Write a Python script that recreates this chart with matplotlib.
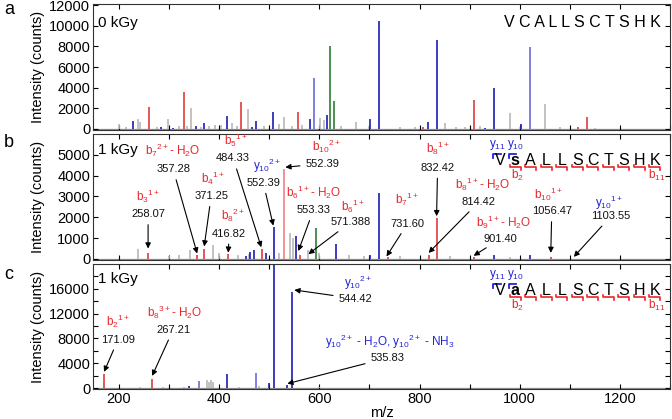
import numpy as np
import matplotlib
matplotlib.use("Agg")
import matplotlib.pyplot as plt
from matplotlib.ticker import MultipleLocator

plt.rcParams['font.family'] = ['Liberation Sans', 'DejaVu Sans']
plt.rcParams['mathtext.fontset'] = 'custom'
plt.rcParams['mathtext.rm'] = 'Liberation Sans'
plt.rcParams['mathtext.it'] = 'Liberation Sans'
plt.rcParams['mathtext.bf'] = 'Liberation Sans:bold'

# ---- peak lists (m/z, intensity, colour class) ----
a_mz = [200, 238, 242, 298, 344, 392, 426, 458, 530, 602, 674, 850, 980, 1050,
        214, 276, 320, 336, 364, 380, 404, 436, 490, 520, 546, 566, 610, 644,
        700, 760, 790, 872, 890, 920, 1000, 1080, 1150,
        228, 284, 308, 354, 370, 416, 466, 474, 508, 582, 616, 702, 720, 816, 834, 930, 948, 1002,
        590, 1020,
        260, 330, 444, 558, 806, 908, 1116, 1134,
        622, 630]
a_int = [500, 1000, 700, 1000, 2000, 400, 600, 1900, 1200, 1100, 700, 600, 1500, 2400,
         150, 200, 300, 250, 200, 300, 350, 250, 300, 500, 300, 400, 900, 300,
         250, 200, 150, 200, 200, 300, 200, 150, 100,
         800, 200, 100, 300, 600, 1300, 200, 800, 1600, 1000, 1400, 1000, 10450, 700, 8600, 100, 4000, 500,
         4900, 7950,
         2100, 3600, 2600, 1600, 200, 2850, 200, 1130,
         8050, 2700]
a_cls = ['k'] * 37 + ['b'] * 18 + ['lb'] * 2 + ['r'] * 8 + ['g'] * 2

b_mz = [238, 342, 388, 438, 542, 548, 578, 300, 320, 400, 460, 520, 600, 660, 690, 760, 860, 980,
        454, 462, 470, 494, 510, 554, 634, 702, 720, 948, 1020,
        258, 356, 370, 418, 486, 562, 736, 818, 834, 908, 1062,
        530, 594]
b_int = [470, 430, 680, 200, 1260, 1000, 450, 150, 200, 300, 250, 300, 300, 200, 150, 150, 150, 100,
         150, 350, 450, 300, 1550, 1120, 730, 200, 3150, 200, 200,
         270, 200, 480, 220, 500, 200, 100, 200, 1980, 100, 100,
         4320, 1500]
b_cls = ['k'] * 18 + ['b'] * 11 + ['r'] * 11 + ['lr', 'g']

c_mz = [242, 288, 376, 380, 384, 388, 330, 440, 480, 600,
        340, 360, 416, 474, 500, 510, 536, 546,
        170, 266]
c_int = [200, 150, 1300, 1000, 1300, 900, 200, 200, 300, 200,
         400, 1080, 2320, 2490, 760, 30000, 430, 15500,
         2200, 1500]
c_cls = ['k'] * 10 + ['b', 'lb', 'b', 'lb', 'b', 'b', 'b', 'b'] + ['r', 'r']

# ---- annotations: ion label, m/z text, colour, arrow target (m/z, intensity) ----
b_ions = [r'$\mathregular{b_3{}^{1+}}$', r'$\mathregular{b_7{}^{2+}}$- H$_2$O',
          r'$\mathregular{b_4{}^{1+}}$', r'$\mathregular{b_8{}^{2+}}$',
          r'$\mathregular{b_5{}^{1+}}$', r'$\mathregular{y_{10}{}^{2+}}$',
          r'$\mathregular{b_{10}{}^{2+}}$', r'$\mathregular{b_6{}^{1+}}$- H$_2$O',
          r'$\mathregular{b_6{}^{1+}}$', r'$\mathregular{b_7{}^{1+}}$',
          r'$\mathregular{b_8{}^{1+}}$', r'$\mathregular{b_8{}^{1+}}$- H$_2$O',
          r'$\mathregular{b_9{}^{1+}}$- H$_2$O', r'$\mathregular{b_{10}{}^{1+}}$',
          r'$\mathregular{y_{10}{}^{1+}}$']
b_nums = ['258.07', '357.28', '371.25', '416.82', '484.33', '552.39', '552.39', '553.33',
          '571.388', '731.60', '832.42', '814.42', '901.40', '1056.47', '1103.55']
b_ion_col = ['r', 'r', 'r', 'r', 'r', 'b', 'r', 'r', 'r', 'r', 'r', 'r', 'r', 'r', 'b']
b_tip = [(258, 500), (356, 260), (370, 600), (418, 300), (484, 560), (508, 1600),
         (532, 4400), (558, 380), (578, 230), (734, 120), (834, 2050), (818, 290),
         (908, 150), (1062, 290), (1108, 100)]

c_ions = [r'$\mathregular{b_2{}^{1+}}$', r'$\mathregular{b_8{}^{3+}}$- H$_2$O',
          r'$\mathregular{y_{10}{}^{2+}}$',
          r'$\mathregular{y_{10}{}^{2+}}$ - H$_2$O, $\mathregular{y_{10}{}^{2+}}$ - NH$_3$']
c_nums = ['171.09', '267.21', '544.42', '535.83']
c_ion_col = ['r', 'r', 'b', 'b']
c_tip = [(170, 2600), (266, 1950), (550, 15800), (536, 700)]

seq_a = ['V', 'C', 'A', 'L', 'L', 'S', 'C', 'T', 'S', 'H', 'K']
seq_b = ['V', 's', 'A', 'L', 'L', 'S', 'C', 'T', 'S', 'H', 'K']
seq_c = ['V', 'a', 'A', 'L', 'L', 'S', 'C', 'T', 'S', 'H', 'K']

# text layout (data coords): ion label pos, number pos
b_lab_xy = [(258, 3000), (308, 5200), (388, 3850), (428, 2100), (434, 5700), (496, 4450),
            (614, 5400), (588, 3200), (668, 2500), (776, 2850), (836, 5300), (926, 3600),
            (968, 1750), (1058, 3100), (1178, 2700)]
b_num_xy = [(258, 2150), (308, 4300), (384, 3020), (420, 1220), (428, 4820), (488, 3650),
            (606, 4570), (588, 2340), (662, 1760), (776, 1700), (836, 4380), (918, 2730),
            (962, 980), (1064, 2290), (1182, 2050)]
c_lab_xy = [(198, 10700), (312, 12150), (678, 16900), (740, 7450)]
c_num_xy = [(198, 7800), (308, 9400), (672, 14400), (736, 4850)]

colors = {'k': '#b8b8b8', 'b': '#1c1cb4', 'lb': '#6a6ae0', 'r': '#e03a3a',
          'lr': '#f08080', 'g': '#2e7d32'}
lab_colors = {'r': '#e8262c', 'b': '#2424d8'}

fig = plt.figure(figsize=(6.72, 4.19), dpi=100)
ax_a = fig.add_axes([0.1384, 0.6897, 0.8586, 0.3007])
ax_b = fig.add_axes([0.1384, 0.3795, 0.8586, 0.3007])
ax_c = fig.add_axes([0.1384, 0.0716, 0.8586, 0.2984])


def draw_spectrum(ax, mz, inten, cls):
    order = np.argsort([c != 'k' for c in cls], kind='stable')
    for i in order:
        ax.vlines(mz[i], 0, inten[i], color=colors[cls[i]], lw=1.2)
    ax.axhline(0, color='#8c8c8c', lw=0.9, zorder=1)
    ax.set_xlim(148, 1300)
    ax.xaxis.set_major_locator(MultipleLocator(200))
    ax.xaxis.set_minor_locator(MultipleLocator(100))
    ax.tick_params(which='both', direction='in', top=True, right=True,
                   labelsize=10.5, length=3.5, width=0.8, pad=2)
    ax.set_ylabel('Intensity (counts)', fontsize=10.5)
    ax.yaxis.set_label_coords(-0.083, 0.5)
    for s in ax.spines.values():
        s.set_linewidth(0.8)
        s.set_color('#333333')


draw_spectrum(ax_a, a_mz, a_int, a_cls)
draw_spectrum(ax_b, b_mz, b_int, b_cls)
draw_spectrum(ax_c, c_mz, c_int, c_cls)

ax_a.set_ylim(-100, 12100)
ax_a.yaxis.set_major_locator(MultipleLocator(2000))
ax_b.set_ylim(-50, 5995)
ax_b.yaxis.set_major_locator(MultipleLocator(1000))
ax_c.set_ylim(-160, 19990)
ax_c.yaxis.set_major_locator(MultipleLocator(4000))
ax_c.yaxis.set_minor_locator(MultipleLocator(2000))
for ax in (ax_a, ax_b):
    ax.tick_params(labelbottom=False)
    ax.yaxis.set_minor_locator(MultipleLocator(100000))
ax_c.set_xlabel('m/z', fontsize=10.5)
ax_c.xaxis.set_label_coords(0.5, -0.135)

ax_a.text(0.008, 0.85, '0 kGy', transform=ax_a.transAxes, fontsize=11, va='center')
ax_b.text(0.008, 0.87, '1 kGy', transform=ax_b.transAxes, fontsize=11, va='center')
ax_c.text(0.008, 0.88, '1 kGy', transform=ax_c.transAxes, fontsize=11, va='center')
ax_a.text(0.985, 0.85, ' '.join(seq_a), transform=ax_a.transAxes,
          fontsize=11.5, ha='right', va='center')

for lbl, yy in zip(['a', 'b', 'c'], [0.978, 0.66, 0.345]):
    fig.text(0.006, yy, lbl, fontsize=13, va='center')


def annotate(ax, ions, nums, ion_col, tips, lab_xy, num_xy):
    for i in range(len(ions)):
        ax.text(lab_xy[i][0], lab_xy[i][1], ions[i], color=lab_colors[ion_col[i]],
                fontsize=8.5, ha='center', va='center')
        ax.annotate(nums[i], xy=tips[i], xytext=num_xy[i], fontsize=8,
                    ha='center', va='center', color='#111111',
                    arrowprops=dict(arrowstyle='-|>', color='k', lw=0.8,
                                    mutation_scale=8, shrinkA=2, shrinkB=0))


annotate(ax_b, b_ions, b_nums, b_ion_col, b_tip, b_lab_xy, b_num_xy)
annotate(ax_c, c_ions, c_nums, c_ion_col, c_tip, c_lab_xy, c_num_xy)


def draw_sequence(ax, seq):
    tr = ax.transAxes
    px_x = 1 / 577.0
    px_y = 1 / 126.0
    x0 = 0.705
    sp = 15.5 * px_x
    yc = 0.79
    red = lab_colors['r']
    blue = lab_colors['b']
    for i, ch in enumerate(seq):
        xc = x0 + i * sp
        w = 'bold' if i == 1 else 'normal'
        ax.text(xc, yc, ch, transform=tr, fontsize=11.5, ha='center', va='center',
                fontweight=w, color='black')
        yb = yc - 6.5 * px_y
        xl = xc - 5.5 * px_x
        xr = xc + 5.5 * px_x
        if i >= 1:
            ax.plot([xl, xl, xr, xr], [yb + 2 * px_y, yb, yb, yb - 3 * px_y],
                    color=red, lw=1.2, transform=tr, clip_on=False)
        if i <= 1:
            yt = yc + 6.5 * px_y
            xl2 = xc - 6.5 * px_x
            ax.plot([xl2, xl2, xc + 1 * px_x], [yt - 4 * px_y, yt, yt],
                    color=blue, lw=1.3, transform=tr, clip_on=False)
    ax.text(x0 - 2 * px_x, yc + 15 * px_y, r'$\mathregular{y_{11}}$', transform=tr,
            color=blue, fontsize=8.5, ha='center', va='center')
    ax.text(x0 + sp, yc + 15 * px_y, r'$\mathregular{y_{10}}$', transform=tr,
            color=blue, fontsize=8.5, ha='center', va='center')
    ax.text(x0 + sp + 2 * px_x, yc - 15 * px_y, r'$\mathregular{b_2}$', transform=tr,
            color=red, fontsize=8.5, ha='center', va='center')
    ax.text(x0 + 10 * sp + 2 * px_x, yc - 15 * px_y, r'$\mathregular{b_{11}}$', transform=tr,
            color=red, fontsize=8.5, ha='center', va='center')


draw_sequence(ax_b, seq_b)
draw_sequence(ax_c, seq_c)

fig.savefig('out.png', dpi=100)
